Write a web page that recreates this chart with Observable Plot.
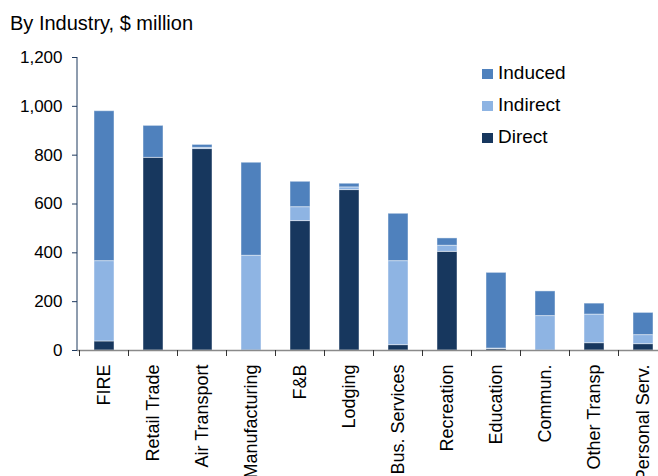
<!DOCTYPE html>
<html><head><meta charset="utf-8">
<script src="https://cdn.jsdelivr.net/npm/d3@7"></script>
<script src="https://cdn.jsdelivr.net/npm/@observablehq/plot@0.6"></script>
<style>
body{margin:0;background:#fff;overflow:hidden;width:658px;height:476px;position:relative;font-family:"Liberation Sans",Arial,sans-serif;}
#sub{position:absolute;left:10px;top:13px;font-size:20px;line-height:20px;color:#000;white-space:nowrap}
#chart{position:absolute;left:0;top:0;width:680px;height:476px}
#chart svg{max-width:none !important;width:680px;height:476px}
#legend{position:absolute;left:482px;top:62px;font-size:19px;color:#000}
.li{position:relative;height:32px;line-height:22px;white-space:nowrap}
.sw{display:inline-block;width:11px;height:10px;margin-right:5px;vertical-align:0px}
</style></head><body>
<div id="chart"></div>
<div id="sub">By Industry, $ million</div>
<div id="legend"></div>
<script>
const industries = ["FIRE","Retail Trade","Air Transport","Manufacturing","F&B","Lodging","Bus. Services","Recreation","Education","Commun.","Other Transp","Personal Serv."];
const direct   = [37, 789, 825, 0, 530, 657, 22, 404, 6, 0, 30, 26];
const indirect = [329, 0, 5, 388, 57, 11, 344, 25, 2, 141, 117, 37];
const induced  = [614, 131, 12, 381, 104, 15, 194, 30, 310, 101, 45, 91];
const seriesNames = ["Direct","Indirect","Induced"];
const seriesColors = ["#17375e","#8eb4e3","#4f81bd"];
const legendOrder = ["Induced","Indirect","Direct"];
const yTicks = [0,200,400,600,800,1000,1200];

const seriesValues = [direct, indirect, induced];
const data = [];
industries.forEach((ind, i) => {
  seriesNames.forEach((s, j) => data.push({industry: ind, series: s, value: seriesValues[j][i]}));
});

function boundaryTicks(index, scales, values, dims) {
  const x = scales.x, y = scales.y;
  const step = x.step ? x.step() : x.bandwidth() / 0.4;
  const bw = x.bandwidth();
  const y0 = y(0);
  const g = d3.create("svg:g");
  const xs = industries.map(c => x(c) - (step - bw) / 2);
  xs.push(x(industries[industries.length - 1]) + bw + (step - bw) / 2);
  xs.forEach(px => {
    g.append("line").attr("x1", px).attr("x2", px).attr("y1", y0).attr("y2", y0 + 6)
      .attr("stroke", "#333").attr("stroke-width", 1);
  });
  g.append("line").attr("x1", dims.marginLeft).attr("x2", dims.marginLeft)
    .attr("y1", y(1200)).attr("y2", y0).attr("stroke", "#1f3a5f").attr("stroke-width", 1);
  return g.node();
}

const plot = Plot.plot({
  width: 680,
  height: 476,
  marginLeft: 77,
  marginRight: 11,
  marginTop: 57,
  marginBottom: 126,
  style: {fontFamily: "'Liberation Sans', Arial, sans-serif", background: "transparent", color: "#000", maxWidth: "none"},
  x: {domain: industries, paddingInner: 0.6, paddingOuter: 0.3, axis: null},
  y: {domain: [0, 1200], axis: null},
  color: {domain: seriesNames, range: seriesColors},
  marks: [
    Plot.barY(data, {x: "industry", y: "value", fill: "series", stroke: "white", strokeOpacity: 0.45, strokeWidth: 1}),
    Plot.ruleY([0], {stroke: "#8a8a8a", strokeWidth: 1.5}),
    boundaryTicks,
    Plot.axisY({ticks: yTicks, tickSize: 5, tickPadding: 10, tickFormat: d3.format(","), label: null, fontSize: 17, stroke: "#1f3a5f"}),
    Plot.axisX({tickSize: 0, tickRotate: -90, tickPadding: 14, fontSize: 18, label: null})
  ]
});
document.getElementById("chart").appendChild(plot);

const leg = document.getElementById("legend");
legendOrder.forEach(s => {
  const c = seriesColors[seriesNames.indexOf(s)];
  const d = document.createElement("div");
  d.className = "li";
  d.innerHTML = `<span class="sw" style="background:${c}"></span>${s}`;
  leg.appendChild(d);
});
</script>
</body></html>
